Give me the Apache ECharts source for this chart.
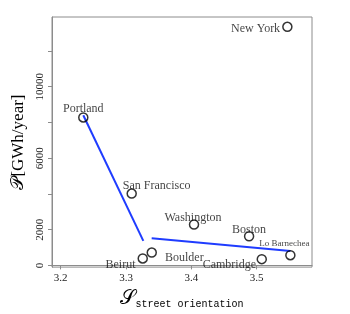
<!DOCTYPE html>
<html><head><meta charset="utf-8">
<script src="https://cdn.jsdelivr.net/npm/echarts@6/dist/echarts.min.js"></script>
<style>html,body{margin:0;padding:0;background:#fff}#c{width:350px;height:314px}</style>
</head><body><div id="c"></div>
<script>
// City names and values
var cities = ["New York","Portland","San Francisco","Washington","Boston","Lo Barnechea","Cambridge","Beirut","Boulder"];
var streetOrientation = [3.547, 3.2346, 3.3087, 3.4041, 3.4884, 3.5516, 3.5078, 3.3256, 3.3394];
var energy = [13350, 8280, 4020, 2290, 1630, 570, 350, 390, 720];
// Piecewise fit segments
var fit1X = [3.2346, 3.3265];
var fit1Y = [8400, 1370];
var fit2X = [3.3393, 3.5516];
var fit2Y = [1520, 810];
// Axis ticks
var xTicks = [3.2, 3.3, 3.4, 3.5];
var yTicks = [0, 2000, 4000, 6000, 8000, 10000, 12000];
var yTickLabels = [0, 2000, 6000, 10000];

var labelStyle = {
  "New York": {position:"left", distance:2, offset:[0,2]},
  "Portland": {position:"top", distance:1, offset:[0,4]},
  "San Francisco": {position:"top", distance:0, offset:[25,4]},
  "Washington": {position:"top", distance:0, offset:[-1,5]},
  "Boston": {position:"top", distance:0, offset:[0,5]},
  "Lo Barnechea": {position:"top", distance:5, offset:[-6,3], fontSize:9},
  "Cambridge": {position:"left", distance:0.5, offset:[0,6]},
  "Beirut": {position:"left", distance:2, offset:[0,6]},
  "Boulder": {position:"right", distance:8, offset:[0,5]}
};

var pts = cities.map(function(n,i){
  var ls = labelStyle[n];
  return {name:n, value:[streetOrientation[i], energy[i]], label:{show:true, formatter:n,
    position:ls.position, distance:ls.distance, offset:ls.offset, fontSize:ls.fontSize||12}};
});
function seg(xs, ys){ return xs.map(function(x,i){return [x, ys[i]];}); }

var serif = "Liberation Serif";
var chart = echarts.init(document.getElementById('c'), null, {renderer:'canvas'});
chart.setOption({
  animation:false,
  grid:{left:52, top:17, right:38, bottom:45, show:true, borderColor:'#8c8c8c', borderWidth:1, backgroundColor:'transparent'},
  xAxis:{type:'value', min:3.1867, max:3.5847,
    axisLine:{show:true, lineStyle:{color:'#8c8c8c'}},
    splitLine:{show:false},
    axisTick:{show:true, length:4, customValues:xTicks, lineStyle:{color:'#8c8c8c'}},
    axisLabel:{customValues:xTicks, color:'#222', fontFamily:serif, fontSize:11, margin:6,
      formatter:function(v){return v.toFixed(1);}},
    name:'{s|𝒮}{sub|street orientation}', nameLocation:'middle', nameGap:21,
    nameTextStyle:{rich:{
      s:{fontFamily:serif, fontSize:20, color:'#000', verticalAlign:'bottom'},
      sub:{fontFamily:'Liberation Mono', fontSize:10, color:'#000', verticalAlign:'bottom'}
    }}
  },
  yAxis:{type:'value', min:-95, max:13900,
    axisLine:{show:true, lineStyle:{color:'#8c8c8c'}},
    splitLine:{show:false},
    axisTick:{show:true, length:4, customValues:yTicks, lineStyle:{color:'#8c8c8c'}},
    axisLabel:{customValues:yTickLabels, rotate:90, color:'#222', fontFamily:serif, fontSize:11, margin:6,
      formatter:function(v){return String(v);}},
    name:'{p|𝒫}{t|[GWh/year]}', nameLocation:'middle', nameGap:21, nameRotate:90,
    nameTextStyle:{rich:{
      p:{fontFamily:serif, fontSize:18, color:'#000'},
      t:{fontFamily:serif, fontSize:17, color:'#000'}
    }}
  },
  series:[
    {type:'line', data:seg(fit1X, fit1Y), symbol:'none', lineStyle:{color:'#1f3cff', width:2}, z:1},
    {type:'line', data:seg(fit2X, fit2Y), symbol:'none', lineStyle:{color:'#1f3cff', width:2}, z:1},
    {type:'scatter', data:pts, symbol:'circle', symbolSize:9,
      itemStyle:{color:'rgba(255,255,255,0)', borderColor:'#000', borderWidth:1.5},
      label:{color:'#111', fontFamily:serif}, z:3}
  ]
});
</script></body></html>
